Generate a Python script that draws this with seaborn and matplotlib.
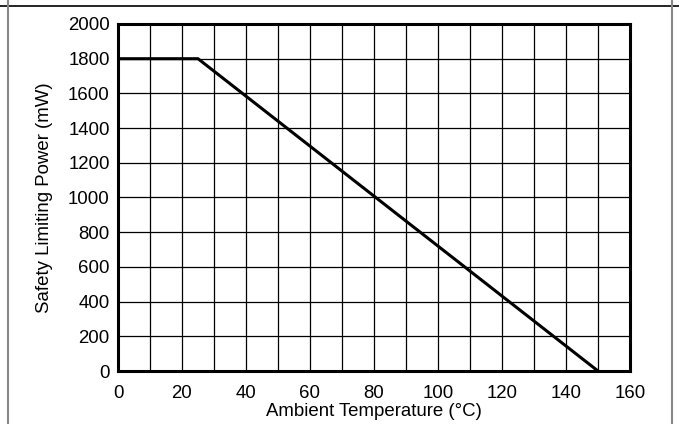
import matplotlib
matplotlib.use("Agg")
import matplotlib.pyplot as plt
import matplotlib.lines as mlines
import seaborn as sns
import pandas as pd

# Derating curve: safety limiting power vs ambient temperature
temperature_c = [0, 25, 150]
power_mw = [1800, 1800, 0]

x_ticks = [0, 20, 40, 60, 80, 100, 120, 140, 160]
y_ticks = [0, 200, 400, 600, 800, 1000, 1200, 1400, 1600, 1800, 2000]

sns.set_theme(style="white")
plt.rcParams["font.family"] = ["Liberation Sans", "DejaVu Sans"]

df = pd.DataFrame({"temp": temperature_c, "power": power_mw})

fig = plt.figure(figsize=(6.79, 4.24), dpi=100)
ax = fig.add_axes([118 / 679, 1 - 371 / 424, (630 - 118) / 679, (371 - 24) / 424])

sns.lineplot(data=df, x="temp", y="power", ax=ax, color="black", linewidth=2.2,
             estimator=None, sort=False, zorder=3)

ax.set_xlim(0, 160)
ax.set_ylim(0, 2000)
ax.set_xticks(x_ticks)
ax.set_yticks(y_ticks)
ax.set_xticks(range(0, 161, 10), minor=True)
ax.grid(True, which="both", color="black", linewidth=0.9)
ax.tick_params(axis="both", which="both", length=0, labelsize=13.4, colors="black")
ax.tick_params(axis="x", pad=10.2)
ax.tick_params(axis="y", pad=6)
ax.set_xlabel("Ambient Temperature (°C)", fontsize=13.4, labelpad=0.5, color="black")
ax.set_ylabel("Safety Limiting Power (mW)", fontsize=13.4, labelpad=10.5, color="black")
for s in ax.spines.values():
    s.set_visible(True)
    s.set_color("black")
    s.set_linewidth(2.2)

# Outer cell border
fig.add_artist(mlines.Line2D([0, 1], [1 - 6 / 424, 1 - 6 / 424], color="black", linewidth=1.2,
                             transform=fig.transFigure))
for xp in (8 / 679, 672 / 679):
    fig.add_artist(mlines.Line2D([xp, xp], [0, 1], color="#888888", linewidth=1.5,
                                 transform=fig.transFigure))

fig.savefig("out.png", dpi=100, facecolor="white")
